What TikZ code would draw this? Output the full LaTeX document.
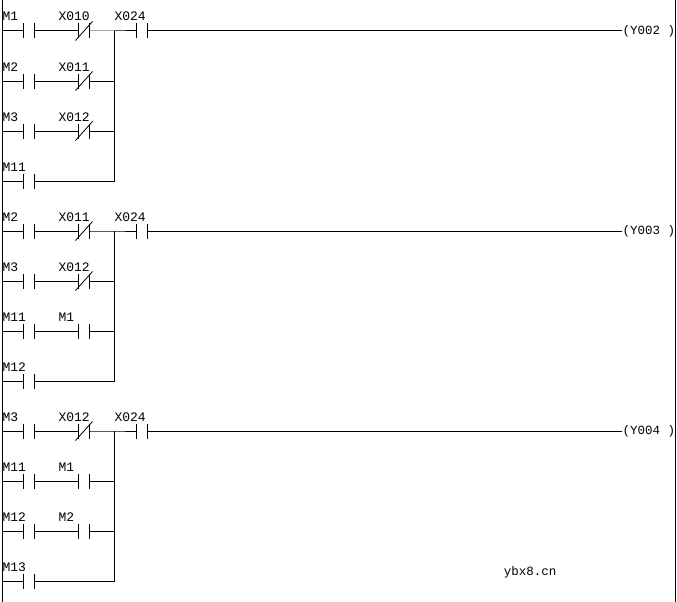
\documentclass[tikz,border=0pt]{standalone}
\usepackage{fontspec}
\setmainfont{Liberation Mono}
\begin{document}
\begin{tikzpicture}[x=1pt,y=-1pt,line width=1pt,
  ct/.style={inner sep=0pt,minimum width=10pt,minimum height=14pt,
    append after command={\pgfextra{\draw[line width=1.2pt] (\tikzlastnode.north west)--(\tikzlastnode.south west)
      (\tikzlastnode.north east)--(\tikzlastnode.south east);}}},
  nc/.style={ct,append after command={\pgfextra{\draw[line width=0.8pt] ([shift={(-3pt,-2pt)}]\tikzlastnode.south west)--([shift={(3pt,2pt)}]\tikzlastnode.north east);}}},
  lbl/.style={font=\fontsize{13}{13}\selectfont,anchor=base west,inner sep=0pt},
  coil/.style={font=\fontsize{12.5}{13}\selectfont,inner sep=0pt,anchor=west}]
\useasboundingbox (0,0) rectangle (677,602);
\draw (2,0) -- (2,602);
\draw (675,0) -- (675,602);
% Block 1
\foreach \y/\a/\bb/\n in {31/M1/X010/a1,81/M2/X011/b1,131/M3/X012/c1}{
  \node[ct] (\n l) at (29,\y) {};
  \node[nc] (\n r) at (84,\y) {};
  \node[lbl] at (2,\y-10) {\a};
  \node[lbl] at (58,\y-10) {\bb};
  \draw (2,\y) -- (\n l.west);
  \draw (\n l.east) -- (\n r.west);
}
\node[ct] (d1l) at (29,181) {};
\node[lbl] at (2,171) {M11};
\draw (2,181) -- (d1l.west);
\coordinate (j1) at (114,31);
\node[ct] (k1) at (142,31) {};
\node[lbl] at (114,21) {X024};
\node[coil] (y1) at (622,31) {(Y002 )};
\draw (a1r.east) -- (j1) -- (k1.west);
\draw (k1.east) -- (y1.west);
\draw (b1r.east) -| (j1);
\draw (c1r.east) -| (j1);
\draw (d1l.east) -| (j1);
% Block 2
\foreach \y/\a/\bb/\n in {231/M2/X011/a2,281/M3/X012/b2}{
  \node[ct] (\n l) at (29,\y) {};
  \node[nc] (\n r) at (84,\y) {};
  \node[lbl] at (2,\y-10) {\a};
  \node[lbl] at (58,\y-10) {\bb};
  \draw (2,\y) -- (\n l.west);
  \draw (\n l.east) -- (\n r.west);
}
\node[ct] (c2l) at (29,331) {};
\node[ct] (c2r) at (84,331) {};
\node[lbl] at (2,321) {M11};
\node[lbl] at (58,321) {M1};
\draw (2,331) -- (c2l.west); \draw (c2l.east) -- (c2r.west);
\node[ct] (d2l) at (29,381) {};
\node[lbl] at (2,371) {M12};
\draw (2,381) -- (d2l.west);
\coordinate (j2) at (114,231);
\node[ct] (k2) at (142,231) {};
\node[lbl] at (114,221) {X024};
\node[coil] (y2) at (622,231) {(Y003 )};
\draw (a2r.east) -- (j2) -- (k2.west);
\draw (k2.east) -- (y2.west);
\draw (b2r.east) -| (j2);
\draw (c2r.east) -| (j2);
\draw (d2l.east) -| (j2);
% Block 3
\node[ct] (a3l) at (29,431) {};
\node[nc] (a3r) at (84,431) {};
\node[lbl] at (2,421) {M3};
\node[lbl] at (58,421) {X012};
\draw (2,431) -- (a3l.west); \draw (a3l.east) -- (a3r.west);
\foreach \y/\a/\bb/\n in {481/M11/M1/b3,531/M12/M2/c3}{
  \node[ct] (\n l) at (29,\y) {};
  \node[ct] (\n r) at (84,\y) {};
  \node[lbl] at (2,\y-10) {\a};
  \node[lbl] at (58,\y-10) {\bb};
  \draw (2,\y) -- (\n l.west);
  \draw (\n l.east) -- (\n r.west);
}
\node[ct] (d3l) at (29,581) {};
\node[lbl] at (2,571) {M13};
\draw (2,581) -- (d3l.west);
\coordinate (j3) at (114,431);
\node[ct] (k3) at (142,431) {};
\node[lbl] at (114,421) {X024};
\node[coil] (y3) at (622,431) {(Y004 )};
\draw (a3r.east) -- (j3) -- (k3.west);
\draw (k3.east) -- (y3.west);
\draw (b3r.east) -| (j3);
\draw (c3r.east) -| (j3);
\draw (d3l.east) -| (j3);
\node[font=\fontsize{12.5}{13}\selectfont,inner sep=0pt] (wm) at (530,572) {ybx8.cn};
\end{tikzpicture}
\end{document}
